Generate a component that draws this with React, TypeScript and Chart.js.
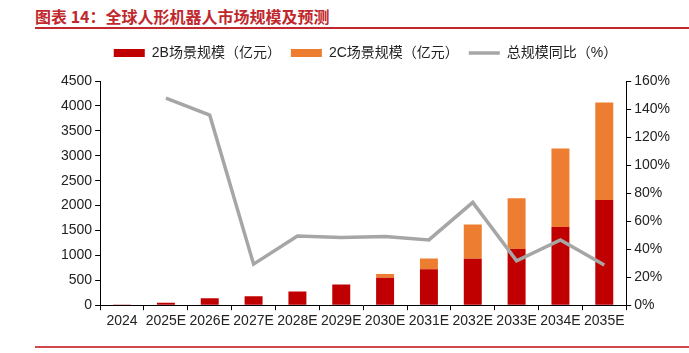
import React, { useEffect, useRef } from "react";
import { Chart, registerables } from "chart.js";

Chart.register(...registerables);

const categories = ["2024", "2025E", "2026E", "2027E", "2028E", "2029E", "2030E", "2031E", "2032E", "2033E", "2034E", "2035E"];
const toB = [12, 50, 140, 180, 275, 415, 550, 720, 930, 1130, 1570, 2110];
const toC = [0, 0, 0, 0, 0, 0, 75, 215, 690, 1015, 1575, 1960];
const growth = [null, 147.8, 135.6, 29.3, 49.3, 48.3, 49.0, 46.6, 73.4, 31.6, 46.6, 28.7];
const leftTicks = [0, 500, 1000, 1500, 2000, 2500, 3000, 3500, 4000, 4500];
const rightTicks = [0, 20, 40, 60, 80, 100, 120, 140, 160];

const FONT = "'Liberation Sans', Arial, 'Noto Sans CJK SC', sans-serif";
const RED = "#C00000";
const ORANGE = "#ED7D31";
const GRAY = "#A6A6A6";
const TITLE_RED = "#C0282D";

const legendSpacer = {
  id: "legendSpacer",
  beforeLayout(chart: any) {
    const lg = chart.legend;
    if (lg && !lg._spacerPatched) {
      const f = lg.fit.bind(lg);
      lg.fit = function () {
        f();
        this.height += 11;
      };
      lg._spacerPatched = true;
    }
  },
};

export default function App() {
  const ref = useRef<HTMLCanvasElement | null>(null);

  useEffect(() => {
    const canvas = ref.current;
    if (!canvas) return;
    const chart = new Chart(canvas, {
      type: "bar",
      data: {
        labels: categories,
        datasets: [
          {
            type: "bar",
            label: "2B场景规模（亿元）",
            data: toB,
            backgroundColor: RED,
            borderWidth: 0,
            stack: "s",
            yAxisID: "y",
            order: 1,
          },
          {
            type: "bar",
            label: "2C场景规模（亿元）",
            data: toC,
            backgroundColor: ORANGE,
            borderWidth: 0,
            stack: "s",
            yAxisID: "y",
            order: 1,
          },
          {
            type: "line",
            label: "总规模同比（%）",
            data: growth,
            borderColor: GRAY,
            backgroundColor: GRAY,
            borderWidth: 3.5,
            pointRadius: 0,
            tension: 0,
            yAxisID: "y1",
            order: 0,
          } as any,
        ],
      },
      plugins: [legendSpacer as any],
      options: {
        responsive: false,
        animation: false,
        layout: { padding: { top: 36, left: 58, right: 16, bottom: 20 } },
        datasets: { bar: { barPercentage: 0.41, categoryPercentage: 1 } } as any,
        plugins: {
          tooltip: { enabled: false },
          legend: {
            position: "top",
            labels: {
              usePointStyle: true,
              pointStyleWidth: 31,
              boxHeight: 8,
              padding: 10,
              color: "#222",
              font: { family: FONT, size: 14 },
              generateLabels: (ch: any) => {
                const items = Chart.defaults.plugins.legend.labels.generateLabels(ch);
                items.sort((a: any, b: any) => a.datasetIndex - b.datasetIndex);
                items.forEach((it: any) => {
                  if (it.datasetIndex === 2) {
                    it.pointStyle = "line";
                    it.lineWidth = 3.5;
                    it.strokeStyle = GRAY;
                  } else {
                    it.pointStyle = "rect";
                    it.lineWidth = 0;
                  }
                });
                return items;
              },
            },
          },
        },
        scales: {
          x: {
            stacked: true,
            offset: true,
            grid: { display: true, drawOnChartArea: false, drawTicks: true, tickLength: 5, color: "#000", offset: true },
            border: { display: true, color: "#000", width: 1 },
            ticks: { color: "#222", font: { family: FONT, size: 14 }, padding: 3, maxRotation: 0, autoSkip: false },
          },
          y: {
            stacked: true,
            position: "left",
            min: 0,
            max: 4500,
            afterBuildTicks: (s: any) => {
              s.ticks = leftTicks.map((v) => ({ value: v }));
            },
            grid: { display: true, drawOnChartArea: false, drawTicks: true, tickLength: 5, color: "#000" },
            border: { display: true, color: "#000", width: 1 },
            ticks: { color: "#222", font: { family: FONT, size: 14 }, padding: 3, callback: (v: any) => String(v) },
          },
          y1: {
            position: "right",
            min: 0,
            max: 160,
            afterBuildTicks: (s: any) => {
              s.ticks = rightTicks.map((v) => ({ value: v }));
            },
            grid: { display: true, drawOnChartArea: false, drawTicks: true, tickLength: 5, color: "#000" },
            border: { display: true, color: "#000", width: 1 },
            ticks: { color: "#222", font: { family: FONT, size: 14 }, padding: 3, callback: (v: any) => v + "%" },
          },
        },
      },
    });
    return () => chart.destroy();
  }, []);

  return (
    <div style={{ position: "absolute", left: 0, top: 0, width: 689, height: 353, background: "#fff", overflow: "hidden" }}>
      <div
        style={{
          position: "absolute",
          left: 35,
          top: 6,
          fontFamily: "'Noto Sans CJK SC', sans-serif",
          fontWeight: 700,
          fontSize: 16,
          lineHeight: "20px",
          color: TITLE_RED,
          whiteSpace: "nowrap",
        }}
      >
        图表 14：全球人形机器人市场规模及预测
      </div>
      <div style={{ position: "absolute", left: 35, top: 27, width: 654, height: 2, background: TITLE_RED }} />
      <canvas ref={ref} width={689} height={353} style={{ position: "absolute", left: 0, top: 0 }} />
      <div style={{ position: "absolute", left: 35, top: 346, width: 654, height: 1.5, background: "#D0474C" }} />
    </div>
  );
}
